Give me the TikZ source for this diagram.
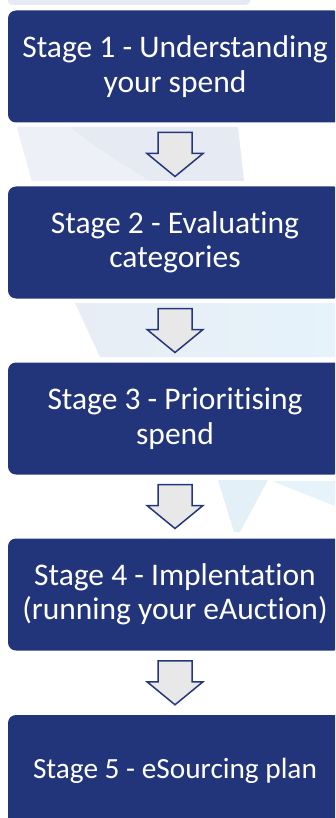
\documentclass[tikz,border=0pt]{standalone}
\usepackage{fontspec}
\setmainfont[Ligatures=NoCommon]{Carlito}
\usetikzlibrary{calc}
\definecolor{navy}{HTML}{22347A}
\definecolor{arrowline}{HTML}{24377B}
\definecolor{arrowfill}{HTML}{E8E8E8}
\definecolor{paleA}{HTML}{E6EAF2}
\definecolor{paleB}{HTML}{EDF0F6}
\definecolor{paleC}{HTML}{E8EDF5}
\definecolor{paleD}{HTML}{E6F3FA}
\definecolor{paleE}{HTML}{E3F0F8}
\tikzset{
  stagebox/.style={rectangle, rounded corners=8pt, fill=navy, text=white,
    minimum width=334pt, minimum height=112pt, inner sep=0pt, align=center,
    font=\fontsize{31.5}{34.5}\selectfont},
  blockarrow/.style={draw=arrowline, fill=arrowfill, line width=1.5pt, line join=miter}
}
\begin{document}
\begin{tikzpicture}[x=1pt,y=-1pt]
  % canvas
  \fill[white] (0,0) rectangle (335,818);
  \useasboundingbox (0,0) rectangle (335,818);
  \begin{scope}
    \clip (0,0) rectangle (335,818);
    % faint background bands behind the flow
    \fill[paleA, rounded corners=4pt] (8,-10) rectangle (250,5);
    \fill[paleA] (17,127) -- (238,127) -- (244,181) -- (32,181) -- cycle;
    \fill[paleB] (17,127) -- (70,127) .. controls (100,150) .. (150,181) -- (32,181) -- cycle;
    \shade[left color=paleC, right color=paleD] (75,303) -- (335,303) -- (335,357) -- (100,357) -- cycle;
    \fill[paleE] (218,480) -- (268,480) -- (240,532) -- (234,532) -- cycle;
    \fill[paleD] (272,481) -- (335,481) -- (335,506) -- cycle;

    % stages
    \node[stagebox] (b1) at (175,66.5)  {Stage 1 - Understanding\\your spend};
    \node[stagebox] (b2) at (175,242.5) {Stage 2 - Evaluating\\categories};
    \node[stagebox] (b3) at (175,418.5) {Stage 3 - Prioritising\\spend};
    \node[stagebox] (b4) at (175,594.5) {Stage 4 - Implentation\\(running your eAuction)};
    \node[stagebox, font=\fontsize{29.3}{34}\selectfont] (b5) at (175,771) {Stage 5 - eSourcing plan};

    % block arrows between consecutive stages
    \foreach \a/\b in {b1/b2, b2/b3, b3/b4, b4/b5} {
      \draw[blockarrow] let \p1 = ($(\a.south)!0.5!(\b.north)$) in
        (\x1-17pt,\y1+22pt) -- (\x1+17pt,\y1+22pt) -- (\x1+17pt,\y1+1pt) --
        (\x1+28pt,\y1+1pt) -- (\x1,\y1-22pt) -- (\x1-28pt,\y1+1pt) --
        (\x1-17pt,\y1+1pt) -- cycle;
    }
  \end{scope}
\end{tikzpicture}
\end{document}
